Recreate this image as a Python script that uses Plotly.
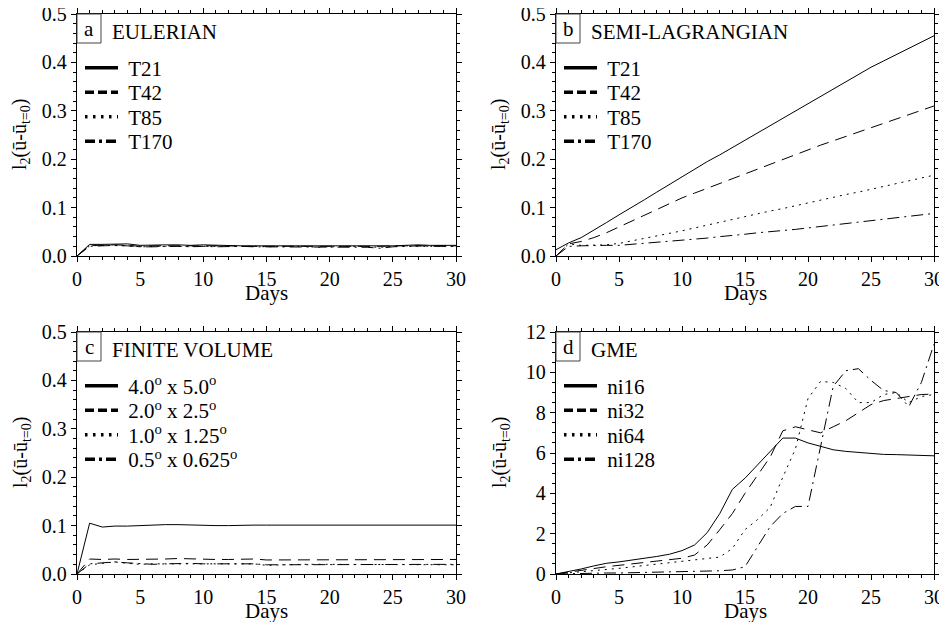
import plotly.graph_objects as go

# The page body adds an 8px margin, so the figure is drawn 8px smaller and all
# pixel positions below are given relative to the figure (screen - 8).
OFF = 8
W, H = 947 - OFF, 622 - OFF
FONT = "Liberation Serif"

days = list(range(31))

# ---- panel a: EULERIAN ----
eul_names = ["T21", "T42", "T85", "T170"]
eul_t21 = [0, .024, .024, .025, .025, .022, .023, .023, .023, .022, .023, .022, .021, .021, .021, .021,
           .021, .021, .021, .020, .021, .021, .021, .021, .021, .021, .022, .023, .022, .022, .022]
eul_t42 = [0, .022, .022, .023, .022, .020, .021, .021, .022, .021, .021, .021, .021, .020, .020, .020,
           .020, .020, .020, .019, .020, .020, .020, .020, .020, .021, .021, .022, .021, .021, .021]
eul_t85 = [0, .021, .022, .022, .021, .019, .020, .020, .020, .020, .020, .020, .021, .020, .020, .019,
           .020, .020, .020, .018, .019, .020, .020, .019, .018, .020, .020, .021, .020, .020, .020]
eul_t170 = [0, .020, .021, .022, .021, .019, .019, .020, .020, .019, .020, .019, .020, .020, .019, .019,
            .019, .019, .019, .018, .019, .019, .019, .018, .016, .019, .020, .021, .020, .020, .020]

# ---- panel b: SEMI-LAGRANGIAN ----
sl_names = ["T21", "T42", "T85", "T170"]
sl_t21 = [.013, .027, .038, .053, .069, .085, .100, .116, .132, .148, .164, .179, .195, .209, .224, .240,
          .255, .270, .285, .300, .315, .330, .345, .360, .375, .390, .403, .416, .429, .442, .455]
sl_t42 = [0, .025, .030, .038, .048, .060, .072, .084, .096, .108, .120, .130, .140, .150, .160, .170,
          .180, .190, .200, .210, .220, .229, .238, .247, .256, .266, .275, .284, .292, .301, .310]
sl_t85 = [0, .025, .022, .022, .023, .026, .031, .036, .041, .047, .052, .058, .064, .069, .075, .081,
          .087, .093, .098, .104, .110, .115, .121, .127, .132, .138, .144, .149, .155, .161, .167]
sl_t170 = [0, .020, .021, .022, .022, .022, .024, .026, .028, .030, .032, .035, .037, .040, .042, .045,
           .048, .050, .053, .055, .058, .061, .064, .067, .069, .072, .075, .078, .082, .085, .088]

# ---- panel c: FINITE VOLUME ----
fv_names = ["4.0<sup>o</sup> x 5.0<sup>o</sup>", "2.0<sup>o</sup> x 2.5<sup>o</sup>",
            "1.0<sup>o</sup> x 1.25<sup>o</sup>", "0.5<sup>o</sup> x 0.625<sup>o</sup>"]
fv_1 = [0, .105, .097, .099, .099, .100, .102, .102, .102, .101, .100, .100, .100, .101, .101, .101,
        .101, .101, .101, .101, .101, .101, .101, .101, .101, .101, .101, .101, .101, .101, .101]
fv_2 = [0, .031, .030, .031, .030, .030, .030, .031, .032, .031, .030, .030, .030, .030, .031, .029,
        .029, .029, .030, .030, .030, .029, .029, .030, .030, .030, .030, .030, .030, .030, .030]
fv_3 = [0, .019, .022, .025, .022, .020, .021, .021, .021, .022, .021, .021, .021, .021, .021, .018,
        .019, .020, .020, .020, .020, .019, .019, .019, .020, .020, .020, .020, .020, .020, .019]
fv_4 = [0, .021, .023, .025, .023, .021, .020, .021, .022, .022, .021, .021, .020, .021, .021, .019,
        .019, .020, .020, .020, .020, .019, .019, .019, .019, .020, .019, .019, .020, .020, .020]

# ---- panel d: GME ----
gme_names = ["ni16", "ni32", "ni64", "ni128"]
gme_ni16 = [0, .12, .25, .40, .53, .60, .68, .77, .87, .98, 1.16, 1.44, 2.05, 3.0, 4.2, 4.75,
            5.4, 6.07, 6.74, 6.74, 6.5, 6.33, 6.16, 6.08, 6.03, 6.0, 5.93, 5.92, 5.9, 5.88, 5.86]
gme_ni32 = [0, .08, .17, .27, .36, .42, .5, .57, .64, .71, .78, .94, 1.44, 2.2, 3.0, 4.0,
            4.9, 5.8, 7.1, 7.3, 7.15, 7.0, 7.3, 7.6, 8.0, 8.4, 8.6, 8.7, 8.8, 8.9, 8.92]
gme_ni64 = [0, .05, .1, .15, .2, .28, .35, .42, .5, .58, .66, .72, .78, .84, 1.27, 2.2,
            2.7, 3.3, 4.8, 6.2, 8.7, 9.55, 9.5, 9.2, 8.5, 8.5, 8.9, 9.0, 8.5, 8.8, 8.9]
gme_ni128 = [0, .02, .03, .04, .05, .05, .06, .07, .08, .09, .10, .12, .14, .16, .2, .36,
             1.36, 2.35, 3.0, 3.35, 3.35, 6.3, 9.3, 10.08, 10.18, 9.6, 9.1, 9.0, 8.3, 9.5, 11.4]

panels = [
    dict(tag="a", title="EULERIAN", names=eul_names, series=[eul_t21, eul_t42, eul_t85, eul_t170],
         yr=[0, 0.5], dtick=0.1, minor=0.02, fmt=".1f"),
    dict(tag="b", title="SEMI-LAGRANGIAN", names=sl_names, series=[sl_t21, sl_t42, sl_t85, sl_t170],
         yr=[0, 0.5], dtick=0.1, minor=0.02, fmt=".1f"),
    dict(tag="c", title="FINITE VOLUME", names=fv_names, series=[fv_1, fv_2, fv_3, fv_4],
         yr=[0, 0.5], dtick=0.1, minor=0.02, fmt=".1f"),
    dict(tag="d", title="GME", names=gme_names, series=[gme_ni16, gme_ni32, gme_ni64, gme_ni128],
         yr=[0, 12], dtick=2, minor=0.5, fmt="d"),
]

# pixel boxes of the plot areas in screen coords (left, right, top, bottom)
screen_boxes = [(77, 456, 14, 256), (556, 934, 14, 256), (77, 456, 332, 574), (556, 934, 332, 574)]

data_dash = ["solid", "12px,7px", "2px,5px", "12px,5px,2px,5px"]
leg_dash = ["solid", "9px,4px", "2.5px,5.5px", "10px,4px,3px,4px"]
leg_offsets = [54, 78.5, 103, 127.5]

tick_font = dict(family=FONT, size=20, color="black")
text_font = dict(family=FONT, size=21, color="black")

fig = go.Figure()
layout = dict(width=W, height=H, autosize=False,
              margin=dict(l=0, r=0, t=0, b=0, pad=0, autoexpand=False),
              paper_bgcolor="white", plot_bgcolor="white",
              font=dict(family=FONT, size=20, color="black"))
annotations = []
shapes = []

for p, (pan, sbox) in enumerate(zip(panels, screen_boxes)):
    l, r, t, b = [v - OFF for v in sbox]
    n = p + 1
    xa = "xaxis" if n == 1 else f"xaxis{n}"
    ya = "yaxis" if n == 1 else f"yaxis{n}"
    xr = "x" if n == 1 else f"x{n}"
    yr = "y" if n == 1 else f"y{n}"
    common = dict(ticks="outside", ticklen=5, tickwidth=1, tickcolor="black",
                  mirror="ticks", showline=True, linecolor="black", linewidth=1.3,
                  showgrid=False, zeroline=False, tickfont=tick_font, automargin=False,
                  ticklabeloverflow="allow")
    layout[xa] = dict(domain=[l / W, r / W], range=[0, 30], tick0=0, dtick=5, anchor=yr,
                      minor=dict(dtick=1, ticks="outside", ticklen=3, tickcolor="black", showgrid=False),
                      **common)
    layout[ya] = dict(domain=[1 - b / H, 1 - t / H], range=pan["yr"], tick0=0, dtick=pan["dtick"],
                      tickformat=pan["fmt"], anchor=xr,
                      minor=dict(dtick=pan["minor"], ticks="outside", ticklen=3, tickcolor="black",
                                 showgrid=False),
                      **common)
    for i, (name, ys) in enumerate(zip(pan["names"], pan["series"])):
        fig.add_trace(go.Scatter(x=days, y=ys, mode="lines", xaxis=xr, yaxis=yr, showlegend=False,
                                 line=dict(color="black", width=1, dash=data_dash[i])))
        k = p * 4 + i + 1
        lid = "legend" if k == 1 else f"legend{k}"
        fig.add_trace(go.Scatter(x=[None], y=[None], mode="lines", xaxis=xr, yaxis=yr,
                                 name="\u00a0" + name, legend=lid, showlegend=True,
                                 line=dict(color="black", width=3.5, dash=leg_dash[i])))
        layout[lid] = dict(x=(l + 3) / W, y=1 - (t + leg_offsets[i]) / H, xanchor="left",
                           yanchor="middle", bgcolor="rgba(0,0,0,0)", borderwidth=0,
                           itemwidth=33, font=text_font)
    # panel tag box
    shapes.append(dict(type="rect", xref=f"{xr} domain", yref=f"{yr} domain",
                       x0=0, x1=24 / (r - l), y0=1 - 29 / (b - t), y1=1,
                       line=dict(color="#444", width=1)))
    annotations.append(dict(text=pan["tag"], xref=f"{xr} domain", yref=f"{yr} domain",
                            x=12 / (r - l), y=1 - 15 / (b - t), xanchor="center", yanchor="middle",
                            showarrow=False, font=text_font))
    annotations.append(dict(text=pan["title"], xref=f"{xr} domain", yref=f"{yr} domain",
                            x=33 / (r - l), y=1 - 18 / (b - t), xanchor="left", yanchor="middle",
                            showarrow=False, font=text_font))
    # axis titles
    annotations.append(dict(text="Days", xref="paper", yref="paper", x=(l + r) / 2 / W,
                            y=1 - (b + 37) / H, xanchor="center", yanchor="middle",
                            showarrow=False, font=text_font))
    annotations.append(dict(text="l<sub>2</sub>(ū-ū<sub>t=0</sub>)", xref="paper", yref="paper",
                            x=(l - 56) / W, y=1 - (t + b) / 2 / H, xanchor="center", yanchor="middle",
                            textangle=-90, showarrow=False,
                            font=dict(family=FONT, size=20, color="black")))

layout["annotations"] = annotations
layout["shapes"] = shapes
fig.update_layout(**layout)
fig.write_html("out.html")
